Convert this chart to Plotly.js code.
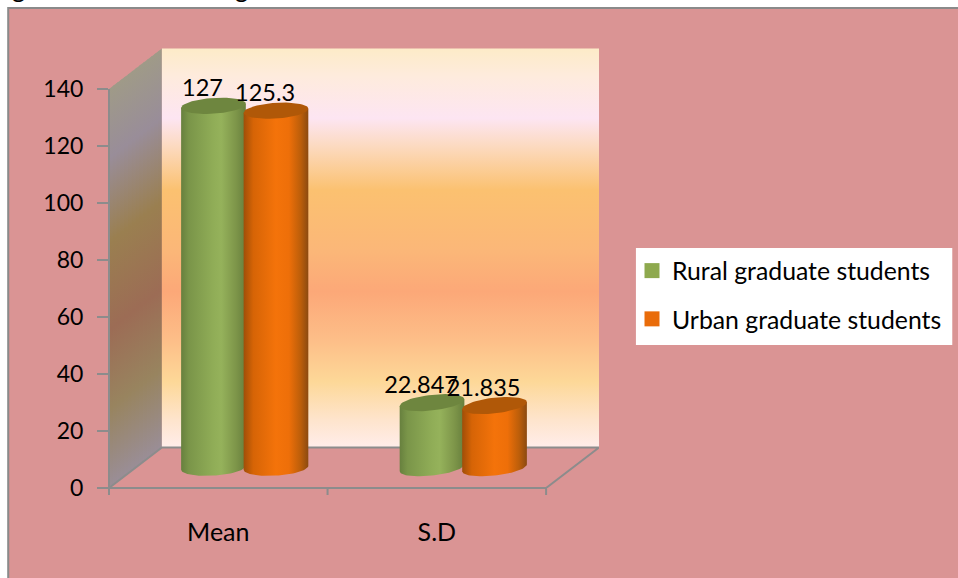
<!DOCTYPE html>
<html>
<head>
<meta charset="utf-8">
<script src="https://cdn.plot.ly/plotly-3.0.1.min.js"></script>
<style>html,body{margin:0;padding:0;background:#fff;overflow:hidden}</style>
</head>
<body>
<div id="chart" style="width:958px;height:578px"></div>
<script>
// Chart values
const categories = ["Mean", "S.D"];
const ruralValues = [127, 22.847];
const urbanValues = [125.3, 21.835];
const ruralName = "Rural graduate students";
const urbanName = "Urban graduate students";
const yTicks = [0, 20, 40, 60, 80, 100, 120, 140];

// Pseudo-3D box: shift applied to a point at the very back of the floor
const depthX = 0.242;
const depthY = 14.2;
const barDepth = 0.5;
const barOffset = 0.143;
const radiusX = 0.148;
const radiusY = 2.75;
const tiltByCategory = [0.7, 1.2];
const labelShiftX = -0.05;
const labelShiftY = 5.4;

const FONT = "Lato, 'Open Sans', sans-serif";
const GRID = "#8C8C8C";

const backWallStops = [
  [0, "#FFEDEA"], [0.07, "#FEE4CC"], [0.165, "#FDD898"], [0.27, "#FDBE88"],
  [0.39, "#FCA878"], [0.495, "#FBB778"], [0.645, "#FBC170"], [0.755, "#FCDAC0"],
  [0.825, "#FDE5F2"], [0.93, "#FEEBDD"], [1, "#FDEBC8"]
];
const sideWallStops = [
  [0, "#9A8E98"], [0.2, "#98845F"], [0.4, "#9C6C55"], [0.62, "#9A7F50"],
  [0.83, "#998D99"], [1, "#9F9A88"]
];
const ruralBody = [
  [0, "#67803E"], [0.12, "#7A9549"], [0.5, "#90AD57"], [0.62, "#95B25B"],
  [0.85, "#7D9549"], [1, "#677F3D"]
];
const urbanBody = [
  [0, "#A04E08"], [0.15, "#D66406"], [0.5, "#F4730A"], [0.7, "#EE6F09"],
  [0.88, "#BC5E0A"], [1, "#8C4A10"]
];
const ruralCap = "#6E863F";
const urbanCap = "#B05808";
const ruralSwatch = "#8EA94E";
const urbanSwatch = "#E96C0A";

const plain = {showlegend: false, hoverinfo: "skip"};

// Side wall: thin vertical strips whose gradient follows the receding plane
const traces = [];
const strips = 14;
for (let i = 0; i < strips; i++) {
  const d0 = i / strips;
  const d1 = Math.min(1, (i + 1.4) / strips);
  traces.push({
    ...plain, type: "scatter", mode: "lines", line: {width: 0}, fill: "toself",
    x: [d0 * depthX, d1 * depthX, d1 * depthX, d0 * depthX],
    y: [d0 * depthY, d1 * depthY, 140 + d1 * depthY, 140 + d0 * depthY],
    fillgradient: {type: "vertical", colorscale: sideWallStops, start: d0 * depthY, stop: 140 + d0 * depthY}
  });
}

// Back wall
traces.push({
  ...plain, type: "scatter", mode: "lines", line: {width: 0}, fill: "toself",
  x: [depthX, 2 + depthX, 2 + depthX, depthX],
  y: [depthY, depthY, 140 + depthY, 140 + depthY],
  fillgradient: {type: "vertical", colorscale: backWallStops, start: depthY, stop: 140 + depthY}
});

// Floor outline
traces.push({
  ...plain, type: "scatter", mode: "lines", line: {color: GRID, width: 2},
  x: [0, depthX, 2 + depthX, 2],
  y: [0, depthY, depthY, 0]
});

function ellipse(cx, cy, tilt, from, to, steps) {
  const xs = [], ys = [];
  for (let k = 0; k <= steps; k++) {
    const t = from + (to - from) * k / steps;
    xs.push(cx + radiusX * Math.cos(t));
    ys.push(cy + radiusY * Math.sin(t) + tilt * Math.cos(t));
  }
  return {xs, ys};
}

function cylinder(center, value, tilt, bodyStops, capColor) {
  const cx = center + barDepth * depthX;
  const base = barDepth * depthY;
  const top = value + base;
  const under = ellipse(cx, base, tilt, Math.PI, 2 * Math.PI, 40);
  traces.push({
    ...plain, type: "scatter", mode: "lines", line: {width: 0}, fill: "toself",
    x: under.xs.concat([cx + radiusX, cx - radiusX]),
    y: under.ys.concat([top + tilt, top - tilt]),
    fillgradient: {type: "horizontal", colorscale: bodyStops, start: cx - radiusX, stop: cx + radiusX}
  });
  const cap = ellipse(cx, top, tilt, 0, 2 * Math.PI, 60);
  traces.push({
    ...plain, type: "scatter", mode: "lines", line: {width: 0}, fill: "toself",
    fillcolor: capColor, x: cap.xs, y: cap.ys
  });
}

categories.forEach((c, i) => {
  cylinder(i + 0.5 - barOffset, ruralValues[i], tiltByCategory[i], ruralBody, ruralCap);
  cylinder(i + 0.5 + barOffset, urbanValues[i], tiltByCategory[i], urbanBody, urbanCap);
});

// Value labels above each cylinder
function labelTrace(values, sign) {
  return {
    ...plain, type: "scatter", mode: "text", textposition: "middle center",
    x: values.map((v, i) => i + 0.5 + sign * barOffset + barDepth * depthX + labelShiftX),
    y: values.map(v => v + barDepth * depthY + labelShiftY),
    text: values.map(String),
    textfont: {family: FONT, size: 23.5, color: "#000"}
  };
}
traces.push(labelTrace(ruralValues, -1));
traces.push(labelTrace(urbanValues, 1));

// Legend entries
function legendEntry(name, color) {
  return {
    type: "scatter", mode: "markers", name: name, legendgroup: name,
    x: [null], y: [null], hoverinfo: "skip",
    marker: {symbol: "square", size: 15, color: color}
  };
}
traces.push(legendEntry(ruralName, ruralSwatch));
traces.push(legendEntry(urbanName, urbanSwatch));

// Plot box covers the whole receding chart; frame, legend panel and front axis live in paper space
const plotL = 109, plotW = 491, plotT = 48, plotH = 440;
const unitX = 219, unitY = 2.85;
const px = x => (x - plotL) / plotW;
const py = y => (plotT + plotH - y) / plotH;

const shapes = [
  {type: "rect", layer: "below", xref: "paper", yref: "paper",
   x0: px(8), x1: px(980), y0: py(8), y1: py(600),
   fillcolor: "#DA9494", line: {color: "#8A8A8A", width: 2}},
  {type: "rect", layer: "below", xref: "paper", yref: "paper",
   x0: px(637), x1: px(954), y0: py(248), y1: py(345),
   fillcolor: "#FFFFFF", line: {width: 0}},
  // front axis lines
  {type: "line", layer: "above", xref: "paper", yref: "paper",
   x0: px(plotL), x1: px(plotL), y0: 0, y1: py(488 - 140 * unitY), line: {color: GRID, width: 2}},
  {type: "line", layer: "above", xref: "paper", yref: "paper",
   x0: px(plotL - 1), x1: px(plotL + 2 * unitX), y0: 0, y1: 0, line: {color: GRID, width: 2}}
];
[0, 1, 2].forEach(v => shapes.push({
  type: "line", layer: "above", xref: "paper", yref: "paper",
  x0: px(plotL + v * unitX), x1: px(plotL + v * unitX), y0: 0, y1: py(495), line: {color: GRID, width: 2}
}));

const layout = {
  width: 958, height: 578, autosize: false,
  margin: {l: plotL, r: 958 - plotL - plotW, t: plotT, b: 578 - plotT - plotH, pad: 0},
  paper_bgcolor: "#FFFFFF",
  plot_bgcolor: "rgba(0,0,0,0)",
  font: {family: FONT, size: 22, color: "#000"},
  hovermode: false,
  xaxis: {
    range: [0, plotW / unitX], tickmode: "array", tickvals: [0.5, 1.5], ticktext: categories,
    ticks: "", showgrid: false, zeroline: false, showline: false,
    ticklabelstandoff: 27, tickfont: {family: FONT, size: 25, color: "#000"}
  },
  yaxis: {
    range: [0, plotH / unitY], tickmode: "array", tickvals: yTicks, ticktext: yTicks.map(String),
    ticks: "outside", ticklen: 11, tickwidth: 2, tickcolor: GRID,
    showgrid: false, zeroline: false, showline: false,
    ticklabelstandoff: 9, tickfont: {family: FONT, size: 23, color: "#000"}
  },
  showlegend: true,
  legend: {
    x: px(632), xanchor: "left", y: py(248), yanchor: "top",
    bgcolor: "rgba(0,0,0,0)", borderwidth: 0,
    font: {family: FONT, size: 24.8, color: "#000"},
    tracegroupgap: 13, traceorder: "grouped", itemclick: false, itemdoubleclick: false
  },
  shapes: shapes,
  annotations: [{
    xref: "paper", yref: "paper", x: px(10), xanchor: "left", y: py(-12), yanchor: "middle",
    text: "g of rural and urban graduate students", showarrow: false,
    font: {family: FONT, size: 25.2, color: "#000"}
  }]
};

Plotly.newPlot("chart", traces, layout, {staticPlot: true, displayModeBar: false});
</script>
</body>
</html>
